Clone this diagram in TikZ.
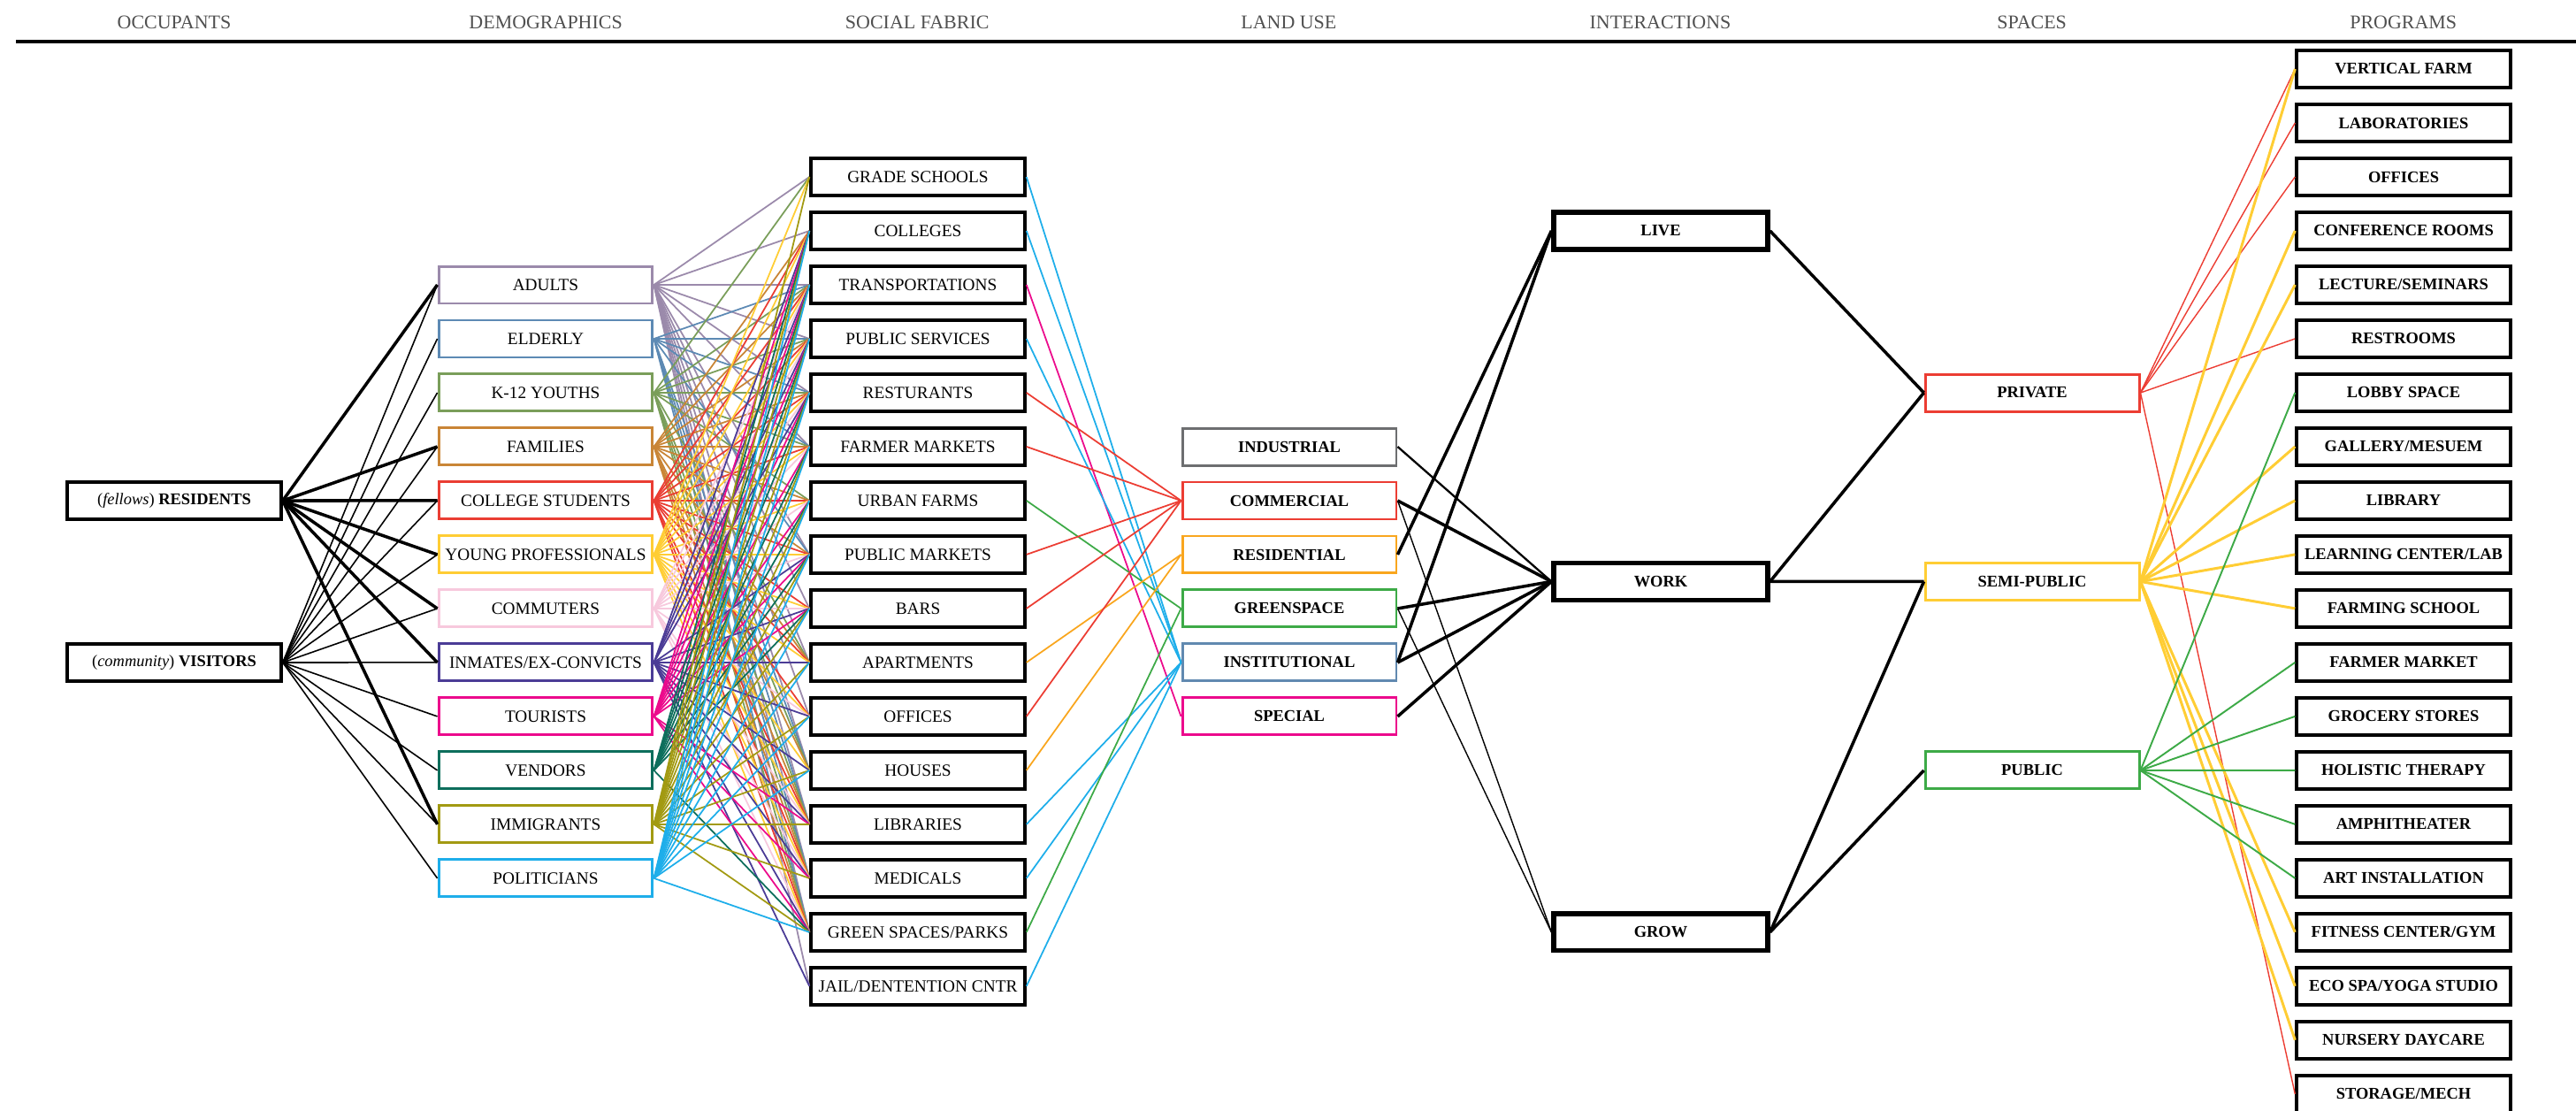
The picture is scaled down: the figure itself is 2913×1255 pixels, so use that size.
\documentclass[tikz,border=0pt]{standalone}
\usepackage{fontspec}
\setmainfont{Liberation Serif}
\usetikzlibrary{positioning}
\tikzset{>=latex}

\definecolor{cadult}{HTML}{9B8AAB}
\definecolor{celder}{HTML}{5D8AB4}
\definecolor{cyouth}{HTML}{7A9E5A}
\definecolor{cfamily}{HTML}{C98536}
\definecolor{cstudent}{HTML}{EA3D33}
\definecolor{cprof}{HTML}{FFCD34}
\definecolor{ccommute}{HTML}{F7C9DD}
\definecolor{cinmate}{HTML}{4B3C96}
\definecolor{ctourist}{HTML}{EC0A8C}
\definecolor{cvendor}{HTML}{0D6E5C}
\definecolor{cimmig}{HTML}{A29A12}
\definecolor{cpolit}{HTML}{1EAEEA}
\definecolor{cindus}{HTML}{6D6E70}
\definecolor{ccomm}{HTML}{EC3D33}
\definecolor{cresid}{HTML}{F9A61E}
\definecolor{cgreen}{HTML}{3DAA47}
\definecolor{cinst}{HTML}{6189B0}
\definecolor{cspec}{HTML}{EC0A8C}
\definecolor{chead}{HTML}{505050}

\tikzset{
  hdr/.style={font=\fontsize{12.5}{15}\selectfont, text=chead},
  box/.style={draw, rectangle, minimum width=4.84cm, minimum height=0.84cm, inner sep=0pt, line width=1.7pt},
  occ/.style={box, line width=2pt, font=\fontsize{10.5}{13}\selectfont},
  demo/.style={box, font=\fontsize{11}{13}\selectfont},
  soc/.style={box, line width=2pt, font=\fontsize{11}{13}\selectfont},
  land/.style={box, font=\fontsize{10.5}{13}\selectfont\bfseries},
  inter/.style={box, line width=3pt, font=\fontsize{10.5}{13}\selectfont\bfseries},
  spacebox/.style={box, font=\fontsize{10.5}{13}\selectfont\bfseries},
  prog/.style={box, line width=2pt, font=\fontsize{10.5}{13}\selectfont\bfseries},
  resline/.style={line width=2pt},
  visline/.style={line width=0.9pt},
  mesh/.style={line width=1pt},
  useline/.style={line width=1pt},
  thickline/.style={line width=2pt},
  thinline/.style={line width=0.8pt}
}

\begin{document}
\begin{tikzpicture}[x=0.02cm, y=-0.02cm, node distance=1.22cm]
\useasboundingbox (0,0) rectangle (2913,1255);

% column titles
\node[hdr] (h1) at (197,25) {OCCUPANTS};
\node[hdr, right of=h1, node distance=8.404cm] (h2) {DEMOGRAPHICS};
\node[hdr, right of=h2, node distance=8.404cm] (h3) {SOCIAL FABRIC};
\node[hdr, right of=h3, node distance=8.404cm] (h4) {LAND USE};
\node[hdr, right of=h4, node distance=8.404cm] (h5) {INTERACTIONS};
\node[hdr, right of=h5, node distance=8.404cm] (h6) {SPACES};
\node[hdr, right of=h6, node distance=8.404cm] (h7) {PROGRAMS};
\draw[line width=2.8pt] (18,47) -- (2913,47);

% occupants
\node[occ] (res) at (197,566) {(\textit{fellows}) \textbf{RESIDENTS}};
\node[occ, below of=res, node distance=3.66cm] (vis) {(\textit{community}) \textbf{VISITORS}};

% demographics
\node[demo, draw=cadult] (adults) at (617,322) {ADULTS};
\node[demo, draw=celder, below of=adults] (elderly) {ELDERLY};
\node[demo, draw=cyouth, below of=elderly] (youths) {K-12 YOUTHS};
\node[demo, draw=cfamily, below of=youths] (families) {FAMILIES};
\node[demo, draw=cstudent, below of=families] (students) {COLLEGE STUDENTS};
\node[demo, draw=cprof, below of=students] (profs) {YOUNG PROFESSIONALS};
\node[demo, draw=ccommute, below of=profs] (commuters) {COMMUTERS};
\node[demo, draw=cinmate, below of=commuters] (inmates) {INMATES/EX-CONVICTS};
\node[demo, draw=ctourist, below of=inmates] (tourists) {TOURISTS};
\node[demo, draw=cvendor, below of=tourists] (vendors) {VENDORS};
\node[demo, draw=cimmig, below of=vendors] (immigrants) {IMMIGRANTS};
\node[demo, draw=cpolit, below of=immigrants] (politicians) {POLITICIANS};

% social fabric
\node[soc] (grade) at (1038,200) {GRADE SCHOOLS};
\node[soc, below of=grade] (colleges) {COLLEGES};
\node[soc, below of=colleges] (transp) {TRANSPORTATIONS};
\node[soc, below of=transp] (pubserv) {PUBLIC SERVICES};
\node[soc, below of=pubserv] (rest) {RESTURANTS};
\node[soc, below of=rest] (farmmkt) {FARMER MARKETS};
\node[soc, below of=farmmkt] (urbfarm) {URBAN FARMS};
\node[soc, below of=urbfarm] (pubmkt) {PUBLIC MARKETS};
\node[soc, below of=pubmkt] (bars) {BARS};
\node[soc, below of=bars] (apts) {APARTMENTS};
\node[soc, below of=apts] (offices) {OFFICES};
\node[soc, below of=offices] (houses) {HOUSES};
\node[soc, below of=houses] (libs) {LIBRARIES};
\node[soc, below of=libs] (meds) {MEDICALS};
\node[soc, below of=meds] (parks) {GREEN SPACES/PARKS};
\node[soc, below of=parks] (jail) {JAIL/DENTENTION CNTR};

% land use
\node[land, draw=cindus] (industrial) at (1458,505) {INDUSTRIAL};
\node[land, draw=ccomm, below of=industrial] (commercial) {COMMERCIAL};
\node[land, draw=cresid, below of=commercial] (residential) {RESIDENTIAL};
\node[land, draw=cgreen, below of=residential] (greenspace) {GREENSPACE};
\node[land, draw=cinst, below of=greenspace] (institutional) {INSTITUTIONAL};
\node[land, draw=cspec, below of=institutional] (special) {SPECIAL};

% interactions
\node[inter] (live) at (1878,261) {LIVE};
\node[inter, below of=live, node distance=7.93cm] (work) {WORK};
\node[inter, below of=work, node distance=7.93cm] (grow) {GROW};

% spaces
\node[spacebox, draw=ccomm] (private) at (2298,444) {PRIVATE};
\node[spacebox, draw=cprof, below of=private, node distance=4.27cm] (semipub) {SEMI-PUBLIC};
\node[spacebox, draw=cgreen, below of=semipub, node distance=4.27cm] (public) {PUBLIC};

% programs
\node[prog] (vfarm) at (2718,78) {VERTICAL FARM};
\node[prog, below of=vfarm] (labs) {LABORATORIES};
\node[prog, below of=labs] (poffices) {OFFICES};
\node[prog, below of=poffices] (confrooms) {CONFERENCE ROOMS};
\node[prog, below of=confrooms] (lectures) {LECTURE/SEMINARS};
\node[prog, below of=lectures] (restrooms) {RESTROOMS};
\node[prog, below of=restrooms] (lobby) {LOBBY SPACE};
\node[prog, below of=lobby] (gallery) {GALLERY/MESUEM};
\node[prog, below of=gallery] (library) {LIBRARY};
\node[prog, below of=library] (learning) {LEARNING CENTER/LAB};
\node[prog, below of=learning] (farmschool) {FARMING SCHOOL};
\node[prog, below of=farmschool] (farmermkt) {FARMER MARKET};
\node[prog, below of=farmermkt] (grocery) {GROCERY STORES};
\node[prog, below of=grocery] (holistic) {HOLISTIC THERAPY};
\node[prog, below of=holistic] (amphi) {AMPHITHEATER};
\node[prog, below of=amphi] (art) {ART INSTALLATION};
\node[prog, below of=art] (fitness) {FITNESS CENTER/GYM};
\node[prog, below of=fitness] (spa) {ECO SPA/YOGA STUDIO};
\node[prog, below of=spa] (nursery) {NURSERY DAYCARE};
\node[prog, below of=nursery] (storage) {STORAGE/MECH};

% occupants to demographics
\draw[resline] (res.east) edge (adults.west) edge (families.west) edge (students.west) edge (profs.west) edge (commuters.west) edge (inmates.west) edge (immigrants.west);
\draw[visline] (vis.east) edge (adults.west) edge (elderly.west) edge (youths.west) edge (families.west) edge (students.west) edge (profs.west) edge (commuters.west) edge (inmates.west) edge (tourists.west) edge (vendors.west) edge (immigrants.west) edge (politicians.west);

% demographics to social fabric
\draw[mesh, cadult] (adults.east) edge (grade.west) edge (colleges.west) edge (transp.west) edge (pubserv.west) edge (rest.west) edge (farmmkt.west) edge (pubmkt.west) edge (bars.west) edge (apts.west) edge (offices.west) edge (houses.west) edge (libs.west) edge (meds.west) edge (parks.west) edge (jail.west);
\draw[mesh, celder] (elderly.east) edge (transp.west) edge (pubserv.west) edge (rest.west) edge (farmmkt.west) edge (pubmkt.west) edge (houses.west) edge (libs.west) edge (meds.west) edge (parks.west);
\draw[mesh, cyouth] (youths.east) edge (grade.west) edge (transp.west) edge (pubserv.west) edge (rest.west) edge (farmmkt.west) edge (urbfarm.west) edge (apts.west) edge (houses.west) edge (libs.west) edge (meds.west) edge (parks.west);
\draw[mesh, cfamily] (families.east) edge (colleges.west) edge (transp.west) edge (pubserv.west) edge (rest.west) edge (farmmkt.west) edge (urbfarm.west) edge (pubmkt.west) edge (apts.west) edge (houses.west) edge (libs.west) edge (meds.west) edge (parks.west);
\draw[mesh, cstudent] (students.east) edge (colleges.west) edge (transp.west) edge (pubserv.west) edge (rest.west) edge (farmmkt.west) edge (urbfarm.west) edge (pubmkt.west) edge (bars.west) edge (apts.west) edge (offices.west) edge (libs.west) edge (meds.west) edge (parks.west);
\draw[mesh, cprof] (profs.east) edge (grade.west) edge (colleges.west) edge (transp.west) edge (pubserv.west) edge (rest.west) edge (farmmkt.west) edge (urbfarm.west) edge (pubmkt.west) edge (bars.west) edge (apts.west) edge (offices.west) edge (houses.west) edge (libs.west) edge (meds.west) edge (parks.west);
\draw[mesh, ccommute] (commuters.east) edge (transp.west) edge (pubserv.west) edge (rest.west) edge (farmmkt.west) edge (urbfarm.west) edge (pubmkt.west) edge (bars.west) edge (offices.west) edge (libs.west) edge (meds.west) edge (parks.west);
\draw[mesh, cinmate] (inmates.east) edge (colleges.west) edge (transp.west) edge (pubserv.west) edge (rest.west) edge (pubmkt.west) edge (bars.west) edge (apts.west) edge (offices.west) edge (houses.west) edge (libs.west) edge (meds.west) edge (parks.west) edge (jail.west);
\draw[mesh, ctourist] (tourists.east) edge (colleges.west) edge (transp.west) edge (pubserv.west) edge (rest.west) edge (farmmkt.west) edge (urbfarm.west) edge (pubmkt.west) edge (bars.west) edge (libs.west) edge (meds.west) edge (parks.west);
\draw[mesh, cvendor] (vendors.east) edge (colleges.west) edge (transp.west) edge (pubserv.west) edge (rest.west) edge (farmmkt.west) edge (urbfarm.west) edge (pubmkt.west) edge (bars.west) edge (parks.west);
\draw[mesh, cimmig] (immigrants.east) edge (grade.west) edge (colleges.west) edge (transp.west) edge (pubserv.west) edge (rest.west) edge (farmmkt.west) edge (urbfarm.west) edge (pubmkt.west) edge (bars.west) edge (apts.west) edge (offices.west) edge (houses.west) edge (libs.west) edge (meds.west) edge (parks.west);
\draw[mesh, cpolit] (politicians.east) edge (colleges.west) edge (transp.west) edge (pubserv.west) edge (rest.west) edge (farmmkt.west) edge (urbfarm.west) edge (pubmkt.west) edge (bars.west) edge (apts.west) edge (offices.west) edge (houses.west) edge (parks.west);

% social fabric to land use
\draw[useline, cpolit] (grade.east) -- (institutional.west);
\draw[useline, cpolit] (colleges.east) -- (institutional.west);
\draw[useline, cspec] (transp.east) -- (special.west);
\draw[useline, cpolit] (pubserv.east) -- (institutional.west);
\draw[useline, ccomm] (rest.east) -- (commercial.west);
\draw[useline, ccomm] (farmmkt.east) -- (commercial.west);
\draw[useline, cgreen] (urbfarm.east) -- (greenspace.west);
\draw[useline, ccomm] (pubmkt.east) -- (commercial.west);
\draw[useline, ccomm] (bars.east) -- (commercial.west);
\draw[useline, cresid] (apts.east) -- (residential.west);
\draw[useline, ccomm] (offices.east) -- (commercial.west);
\draw[useline, cresid] (houses.east) -- (residential.west);
\draw[useline, cpolit] (libs.east) -- (institutional.west);
\draw[useline, cpolit] (meds.east) -- (institutional.west);
\draw[useline, cgreen] (parks.east) -- (greenspace.west);
\draw[useline, cpolit] (jail.east) -- (institutional.west);

% land use to interactions
\draw[line width=1.3pt] (industrial.east) -- (work.west);
\draw[thickline] (commercial.east) -- (work.west);
\draw[thinline] (commercial.east) -- (grow.west);
\draw[thickline] (residential.east) -- (live.west);
\draw[thickline] (greenspace.east) -- (work.west);
\draw[thinline] (greenspace.east) -- (grow.west);
\draw[thickline] (institutional.east) -- (live.west);
\draw[thickline] (institutional.east) -- (work.west);
\draw[thickline] (special.east) -- (work.west);

% interactions to spaces
\draw[thickline] (live.east) -- (private.west);
\draw[thickline] (work.east) -- (private.west);
\draw[thickline] (work.east) -- (semipub.west);
\draw[thickline] (grow.east) -- (semipub.west);
\draw[thickline] (grow.east) -- (public.west);

% spaces to programs
\draw[thinline, ccomm] (private.east) edge (vfarm.west) edge (labs.west) edge (poffices.west) edge (restrooms.west) edge (storage.west);
\draw[line width=1.7pt, cprof] (semipub.east) edge (vfarm.west) edge (confrooms.west) edge (lectures.west) edge (gallery.west) edge (library.west) edge (learning.west) edge (farmschool.west) edge (fitness.west) edge (spa.west) edge (nursery.west);
\draw[line width=1.1pt, cgreen] (public.east) edge (lobby.west) edge (farmermkt.west) edge (grocery.west) edge (holistic.west) edge (amphi.west) edge (art.west);
\end{tikzpicture}
\end{document}
